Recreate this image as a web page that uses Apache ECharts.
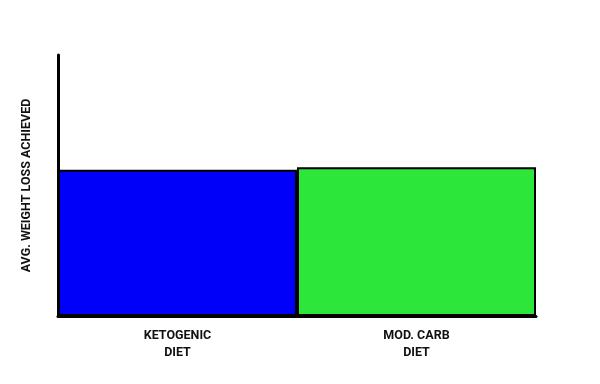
<!DOCTYPE html>
<html>
<head>
<meta charset="utf-8">
<script src="https://cdn.jsdelivr.net/npm/echarts@6/dist/echarts.min.js"></script>
<style>html,body{margin:0;padding:0;background:#fff;}#c{width:600px;height:384px;}</style>
</head>
<body>
<div id="c"></div>
<script>
const categories = ['KETOGENIC\nDIET', 'MOD. CARB\nDIET'];
const values = [56, 57];
const barColors = ['#0000fa', '#2ce63a'];
const yAxisTitle = 'AVG. WEIGHT LOSS ACHIEVED';

const chart = echarts.init(document.getElementById('c'), null, {renderer: 'canvas'});
chart.setOption({
  animation: false,
  backgroundColor: '#ffffff',
  grid: {left: 58, right: 64, top: 55, bottom: 68},
  xAxis: {
    type: 'category',
    data: categories,
    axisTick: {show: false},
    axisLine: {show: true, lineStyle: {color: '#000', width: 3}},
    axisLabel: {
      color: '#111', fontFamily: 'Roboto', fontWeight: 'bold', fontSize: 12.5,
      lineHeight: 16.5, margin: 12, interval: 0
    }
  },
  yAxis: {
    type: 'value',
    min: 0, max: 100,
    name: yAxisTitle,
    nameLocation: 'middle',
    nameGap: 25,
    nameTextStyle: {color: '#111', fontFamily: 'Roboto', fontWeight: 'bold', fontSize: 12.5},
    axisLine: {show: true, lineStyle: {color: '#000', width: 3}},
    axisTick: {show: false},
    axisLabel: {show: false},
    splitLine: {show: false}
  },
  series: [{
    type: 'bar',
    data: values.map((v, i) => ({value: v, itemStyle: {color: barColors[i]}})),
    barCategoryGap: '0%',
    itemStyle: {borderColor: '#000', borderWidth: 2}
  }]
});
</script>
</body>
</html>
